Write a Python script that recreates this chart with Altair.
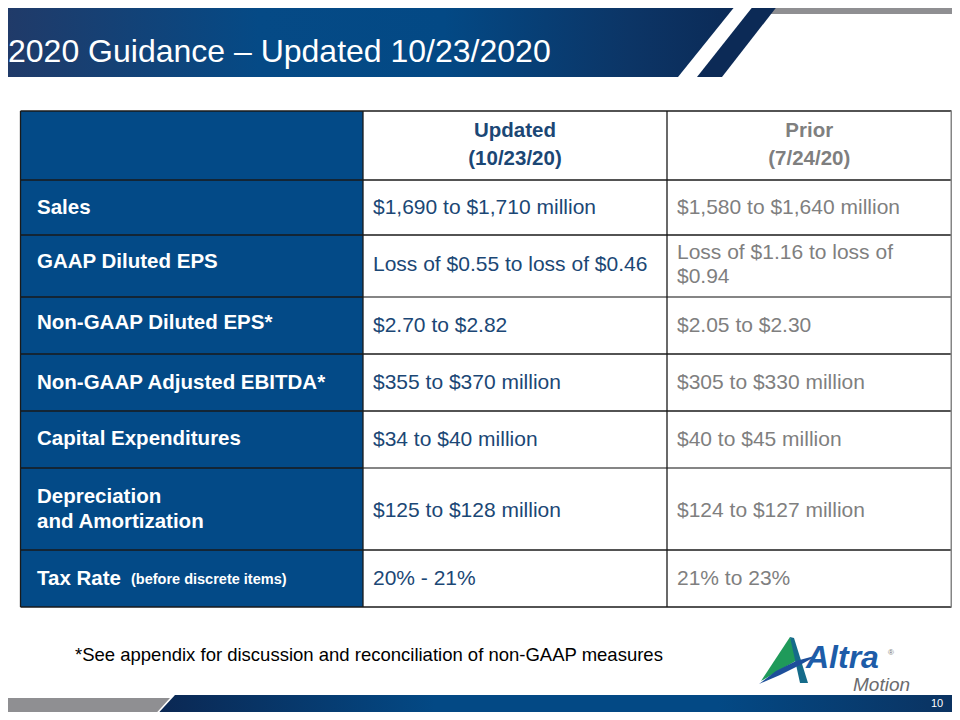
import altair as alt
import pandas as pd

# ---------------- content ----------------
title_text = "2020 Guidance \u2013 Updated 10/23/2020"
col_headers = ["Updated\n(10/23/20)", "Prior\n(7/24/20)"]
row_labels = ["Sales", "GAAP Diluted EPS", "Non-GAAP Diluted EPS*", "Non-GAAP Adjusted EBITDA*",
              "Capital Expenditures", "Depreciation\nand Amortization", "Tax Rate"]
row_label_note = "(before discrete items)"
updated_values = ["$1,690 to $1,710 million", "Loss of $0.55 to loss of $0.46", "$2.70 to $2.82",
                  "$355 to $370 million", "$34 to $40 million", "$125 to $128 million", "20% - 21%"]
prior_values = ["$1,580 to $1,640 million", "Loss of $1.16 to loss of\n$0.94", "$2.05 to $2.30",
                "$305 to $330 million", "$40 to $45 million", "$124 to $127 million", "21% to 23%"]
footnote = "*See appendix for discussion and reconciliation of non-GAAP measures"
page_number = "10"
logo_word = "Altra"
logo_reg = "\u00ae"
logo_sub = "Motion"

# ---------------- layout (slide pixels) ----------------
M = 8                      # page margin
VW, VH = 944, 704          # visible svg size
col_edges = [20.5, 363, 667, 951.5]
row_edges = [111, 180, 235, 297, 354, 411, 468, 550, 607]
label_dy = [0, -4, -3, 0, -1, 0, 0]
value_dy = [0, -1, 0, 0, 0, 2, 0]
FONT = "Liberation Sans, Arial, sans-serif"
BLUE_COL = "#034a87"
UPD_COLOR = "#1b4775"
PRI_COLOR = "#7f7f7f"

xs = alt.Scale(domain=[M, M + VW], nice=False, zero=False)
ys = alt.Scale(domain=[M + VH, M], nice=False, zero=False)


def X(f="x"):
    return alt.X(f"{f}:Q", scale=xs, axis=None)


def Y(f="y"):
    return alt.Y(f"{f}:Q", scale=ys, axis=None)


def poly(points, color):
    pts = list(points) + [points[0]]
    df = pd.DataFrame({"x": [p[0] for p in pts], "y": [p[1] for p in pts], "o": list(range(len(pts)))})
    return alt.Chart(df).mark_line(filled=True, color=color, interpolate="linear", strokeWidth=0).encode(
        x=X(), y=Y(), order="o:Q")


def area(xv, top, bottom, color):
    df = pd.DataFrame({"x": xv, "y": top, "y2": bottom})
    return alt.Chart(df).mark_area(color=color, interpolate="linear").encode(x=X(), y=Y(), y2="y2:Q")


def grad(stops):
    return alt.Gradient(gradient="linear", x1=0, x2=1, y1=0, y2=0,
                        stops=[alt.GradientStop(offset=o, color=c) for o, c in stops])


def centred(texts, ys_, lh):
    # first-line position so that a multi-line block is centred on ys_
    return [y - (t.count("\n")) * lh / 2 for t, y in zip(texts, ys_)]


def text_layer(df, **mk):
    base = dict(font=FONT, lineBreak="\n")
    base.update(mk)
    return alt.Chart(df).mark_text(**base).encode(x=X(), y=Y(), text="t:N")


layers = []

# ---- header banner ----
layers.append(area([0, 678, 740], [0, 0, 0], [77, 77, 0],
                   grad([(0, "#213a68"), (0.35, "#054a86"), (0.6, "#034985"), (0.85, "#0c3566"), (1, "#0b2a56")])))
layers.append(poly([(768, 0), (960, 0), (960, 14), (762, 14)], "#8f8f92"))
layers.append(poly([(697, 77), (758, 0), (782, 0), (722, 77)], "#0c2a56"))
layers.append(text_layer(pd.DataFrame({"x": [8], "y": [62], "t": [title_text]}),
                         align="left", baseline="alphabetic", fontSize=32, color="white"))

# ---- footer bar ----
layers.append(area([0, 150, 170], [698, 698, 698], [720, 720, 698], "#8f8f92"))
layers.append(area([152, 175, 960], [720, 695, 695], [720, 720, 720],
                   grad([(0, "#0b2752"), (0.35, "#034985"), (0.7, "#034985"), (1, "#0b3260")])))
layers.append(text_layer(pd.DataFrame({"x": [937], "y": [704], "t": [page_number]}),
                         align="center", baseline="middle", fontSize=11, color="white"))

# ---- table ----
layers.append(alt.Chart(pd.DataFrame({"x": [col_edges[0]], "x2": [col_edges[1]],
                                      "y": [row_edges[0]], "y2": [row_edges[-1]]}))
              .mark_rect(color=BLUE_COL).encode(x=X(), x2="x2:Q", y=Y(), y2="y2:Q"))

h = pd.DataFrame({"x": [col_edges[0]] * len(row_edges), "x2": [col_edges[-1]] * len(row_edges), "y": row_edges})
layers.append(alt.Chart(h).mark_rule(color="#1a1a1a", strokeWidth=1.3).encode(x=X(), x2="x2:Q", y=Y()))
hg = pd.DataFrame({"x": [col_edges[1]] * 2, "x2": [col_edges[-1]] * 2, "y": [row_edges[3], row_edges[6]]})
layers.append(alt.Chart(hg).mark_rule(color="#858585", strokeWidth=2).encode(x=X(), x2="x2:Q", y=Y()))
v = pd.DataFrame({"x": col_edges[:3], "y": [row_edges[0]] * 3, "y2": [row_edges[-1]] * 3})
layers.append(alt.Chart(v).mark_rule(color="#1a1a1a", strokeWidth=1.3).encode(x=X(), y=Y(), y2="y2:Q"))
vr = pd.DataFrame({"x": [col_edges[3]], "y": [row_edges[0]], "y2": [row_edges[-1]]})
layers.append(alt.Chart(vr).mark_rule(color="#858585", strokeWidth=2).encode(x=X(), y=Y(), y2="y2:Q"))

hy = (row_edges[0] + row_edges[1]) / 2 - 1
HLH = 28
layers.append(text_layer(pd.DataFrame({"x": [(col_edges[1] + col_edges[2]) / 2],
                                       "y": centred([col_headers[0]], [hy], HLH), "t": [col_headers[0]]}),
                         align="center", baseline="middle", fontSize=20.5, fontWeight="bold",
                         color=UPD_COLOR, lineHeight=HLH))
layers.append(text_layer(pd.DataFrame({"x": [(col_edges[2] + col_edges[3]) / 2],
                                       "y": centred([col_headers[1]], [hy], HLH), "t": [col_headers[1]]}),
                         align="center", baseline="middle", fontSize=20.5, fontWeight="bold",
                         color=PRI_COLOR, lineHeight=HLH))

centers = [(row_edges[i + 1] + row_edges[i + 2]) / 2 for i in range(len(row_labels))]
label_y = [c + d for c, d in zip(centers, label_dy)]
value_y = [c + d for c, d in zip(centers, value_dy)]
LLH, VLH = 25, 24
layers.append(text_layer(pd.DataFrame({"x": [37] * len(row_labels), "y": centred(row_labels, label_y, LLH),
                                       "t": row_labels}),
                         align="left", baseline="middle", fontSize=20.5, fontWeight="bold",
                         color="white", lineHeight=LLH))
layers.append(text_layer(pd.DataFrame({"x": [131], "y": [label_y[-1] + 1], "t": [row_label_note]}),
                         align="left", baseline="middle", fontSize=14.5, fontWeight="bold", color="white"))
layers.append(text_layer(pd.DataFrame({"x": [373] * len(updated_values),
                                       "y": centred(updated_values, value_y, VLH), "t": updated_values}),
                         align="left", baseline="middle", fontSize=21, color=UPD_COLOR, lineHeight=VLH))
layers.append(text_layer(pd.DataFrame({"x": [677] * len(prior_values),
                                       "y": centred(prior_values, value_y, VLH), "t": prior_values}),
                         align="left", baseline="middle", fontSize=21, color=PRI_COLOR, lineHeight=VLH))

# ---- footnote ----
layers.append(text_layer(pd.DataFrame({"x": [75], "y": [655], "t": [footnote]}),
                         align="left", baseline="middle", fontSize=18.5, color="black"))

# ---- logo ----
layers.append(poly([(790, 637), (761, 681), (799, 659)], "#1f9a5a"))
layers.append(poly([(790, 637), (794, 638), (808, 683), (800, 683)], "#156b8a"))
layers.append(poly([(759, 684), (776, 671), (796, 661), (818, 655), (800, 665), (780, 675)], "#1d4f9a"))
layers.append(text_layer(pd.DataFrame({"x": [806], "y": [668], "t": [logo_word]}),
                         align="left", baseline="alphabetic", fontSize=32, fontWeight="bold",
                         fontStyle="italic", color="#1d5ca8"))
layers.append(text_layer(pd.DataFrame({"x": [891], "y": [653], "t": [logo_reg]}),
                         align="center", baseline="middle", fontSize=8, color="#777777"))
layers.append(text_layer(pd.DataFrame({"x": [853], "y": [691], "t": [logo_sub]}),
                         align="left", baseline="alphabetic", fontSize=19, fontStyle="italic", color="#6b6b6e"))

chart = alt.layer(*layers).properties(
    width=VW, height=VH, padding=0,
    autosize=alt.AutoSizeParams(type="none"),
    background="white",
).configure_view(strokeWidth=0)

chart.save("out.html", embed_options={"renderer": "svg", "actions": False})
